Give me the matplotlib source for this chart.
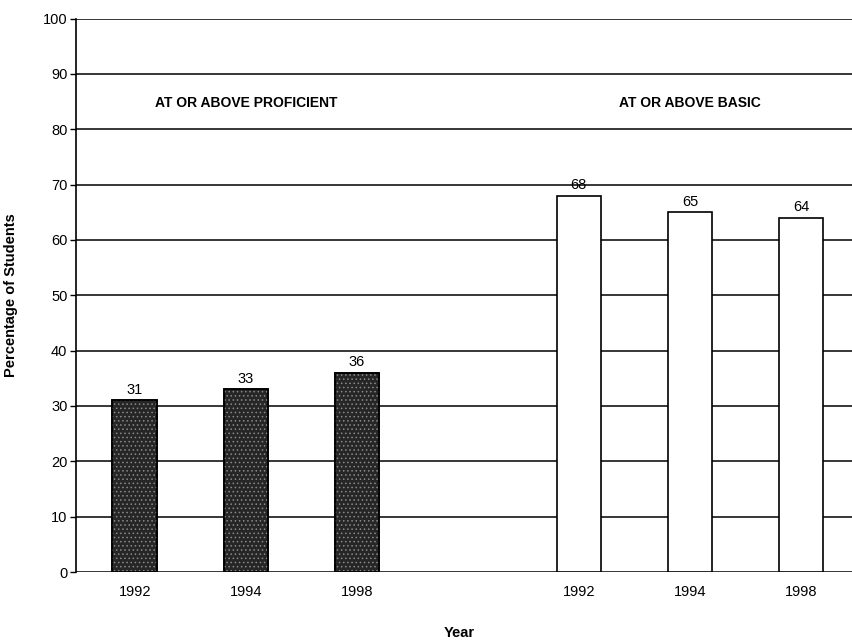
import matplotlib.pyplot as plt
import numpy as np

plt.rcParams['font.family'] = ['Liberation Sans', 'DejaVu Sans']

years = ["1992", "1994", "1998"]
proficient = [31, 33, 36]
basic = [68, 65, 64]
group_titles = ["AT OR ABOVE PROFICIENT", "AT OR ABOVE BASIC"]
y_ticks = list(range(0, 101, 10))

fig = plt.figure(figsize=(8.52, 6.41), dpi=100)
ax = fig.add_axes([0.089, 0.1076, 0.911, 0.8635])

pos_prof = np.arange(len(years))
pos_basic = pos_prof + 4
width = 0.4

# gridlines behind bars
for t in y_ticks:
    ax.axhline(t, color="black", lw=1.1, zorder=0)

ax.bar(pos_prof, proficient, width, color="#262626", edgecolor="black", lw=1.2, zorder=2)
plt.rcParams['hatch.linewidth'] = 0.6
ax.bar(pos_prof, proficient, width, facecolor="none", edgecolor="#8a8a8a", hatch="....",
       lw=0, zorder=3)
ax.bar(pos_prof, proficient, width, facecolor="none", edgecolor="black", lw=1.2, zorder=4)
ax.bar(pos_basic, basic, width, color="white", edgecolor="black", lw=1.2, zorder=2)

for x, v in zip(np.concatenate([pos_prof, pos_basic]), proficient + basic):
    ax.text(x, v + 0.6, str(v), ha="center", va="bottom", fontsize=10.5)

ax.text(pos_prof.mean(), 84.8, group_titles[0], ha="center", va="center",
        fontsize=10, fontweight="bold")
ax.text(pos_basic.mean(), 84.8, group_titles[1], ha="center", va="center",
        fontsize=10, fontweight="bold")

ax.set_xlim(-0.53, 6.46)
ax.set_ylim(0, 100)
ax.set_yticks(y_ticks)
ax.set_xticks(np.concatenate([pos_prof, pos_basic]))
ax.set_xticklabels(years + years)
ax.tick_params(axis="x", length=0, pad=9, labelsize=10.5)
ax.tick_params(axis="y", length=4, width=1, labelsize=10.5, pad=2)

for s in ["top", "right"]:
    ax.spines[s].set_visible(False)
ax.spines["bottom"].set_visible(False)
ax.spines["left"].set_linewidth(1.2)

ax.set_xlabel("Year", fontsize=10.5, fontweight="bold")
ax.xaxis.set_label_coords(0.494, -0.097)
ax.set_ylabel("Percentage of Students", fontsize=10.5, fontweight="bold")
ax.yaxis.set_label_coords(-0.075, 0.5)

fig.savefig("out.png", dpi=100)
